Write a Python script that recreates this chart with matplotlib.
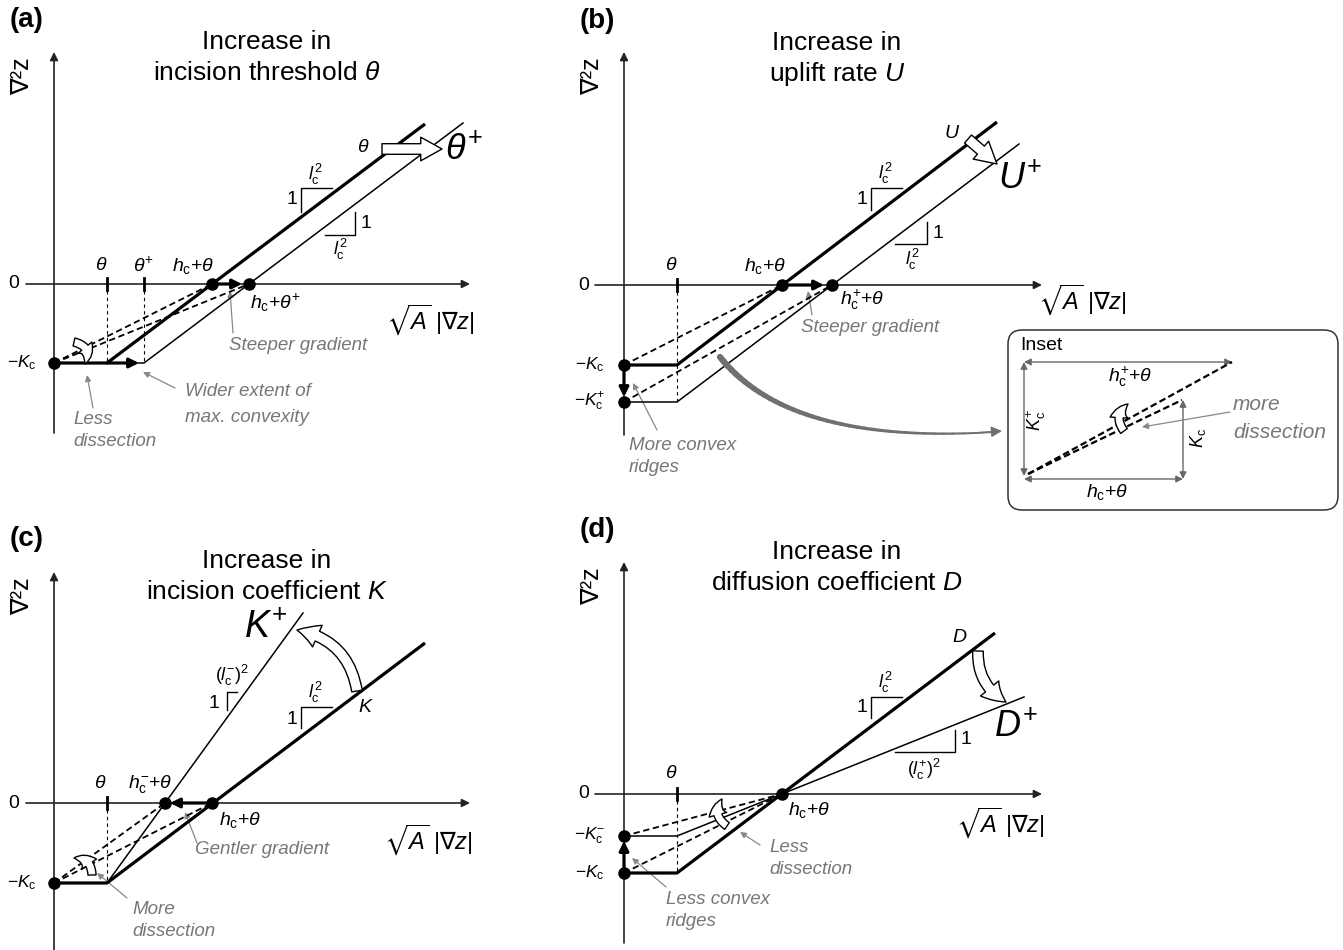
#!/usr/bin/env python3
"""
Schematic of the curvature - drainage area relation and how it shifts
when incision threshold, uplift, incision coefficient or diffusion change.
"""

import matplotlib
matplotlib.use('Agg')
import matplotlib.pyplot as plt
from matplotlib.patches import FancyArrowPatch, FancyBboxPatch
from matplotlib.collections import LineCollection
import numpy as np

plt.rcParams['font.family'] = ['Liberation Sans', 'DejaVu Sans']
plt.rcParams['mathtext.fontset'] = 'custom'
plt.rcParams['mathtext.rm'] = 'Liberation Sans'
plt.rcParams['mathtext.it'] = 'Liberation Sans:italic'
plt.rcParams['mathtext.bf'] = 'Liberation Sans:bold'
plt.rcParams['mathtext.sf'] = 'DejaVu Sans'
plt.rcParams['mathtext.fallback'] = 'stixsans'

W, H = 1343, 950
GREY = '#777777'
THICK = 2.3
THIN = 1.1

# ---- data (local units, x right of the y axis, y up from the x axis) ----
# panel (a): increase in incision threshold
A_ORIGIN = (54, 284)
A_KC = -79
A_TICKS = [53, 90]                 # theta, theta+
A_ZERO_X = [158, 195]              # hc+theta, hc+theta+
A_OLD_X = [0, 53, 371]
A_OLD_Y = [-79, -79, 160]
A_NEW_X = [53, 90, 409]
A_NEW_Y = [-79, -79, 161]

# panel (b): increase in uplift rate
B_ORIGIN = (624, 285)
B_KC = [-80, -117]                 # -Kc, -Kc+
B_TICKS = [53]
B_ZERO_X = [158, 208]              # hc+theta, hc+ + theta
B_OLD_X = [0, 53, 373]
B_OLD_Y = [-80, -80, 163]
B_NEW_X = [0, 53, 395]
B_NEW_Y = [-117, -117, 141]

# panel (c): increase in incision coefficient
C_ORIGIN = (54, 803)
C_KC = -80
C_TICKS = [53]
C_ZERO_X = [111, 158]              # hc- + theta, hc+theta
C_OLD_X = [0, 53, 371]
C_OLD_Y = [-80, -80, 160]
C_NEW_X = [53, 249]
C_NEW_Y = [-80, 190]

# panel (d): increase in diffusion coefficient
D_ORIGIN = (624, 794)
D_KC = [-79, -42]                  # -Kc, -Kc-
D_TICKS = [53]
D_ZERO_X = [158]
D_OLD_X = [0, 53, 371]
D_OLD_Y = [-79, -79, 161]
D_NEW_X = [0, 53, 400]
D_NEW_Y = [-42, -42, 97]

# inset: triangles of the two dashed envelopes
INSET_ORIGIN = (1024, 479)
INSET_TOP = 117
INSET_WIDE = 208
INSET_NARROW = 159
INSET_LOW = 79


def panel_axes(fig, origin):
    ox, oy = origin
    ax = fig.add_axes([0, 0, 1, 1])
    ax.set_xlim(-ox, W - ox)
    ax.set_ylim(oy - H, oy)
    ax.axis('off')
    ax.patch.set_alpha(0)
    return ax


def arrow(ax, tail, tip, color='#222222', lw=1.0, ms=12, style='-|>', **kw):
    ax.add_patch(FancyArrowPatch(tail, tip, arrowstyle=style, color=color, lw=lw,
                                 mutation_scale=ms, shrinkA=0, shrinkB=0, **kw))


def hollow(ax, tail, tip, rad=0.0, ms=16, lw=1.0):
    ax.add_patch(FancyArrowPatch(
        tail, tip, connectionstyle=f'arc3,rad={rad}',
        arrowstyle='simple,head_width=1.0,head_length=0.9,tail_width=0.45',
        mutation_scale=ms, fc='white', ec='black', lw=lw, shrinkA=0, shrinkB=0,
        zorder=6))


def base_axes(ax, top, bottom, right, left=-28, xlab_pos=(376, -36)):
    arrow(ax, (0, bottom), (0, top), lw=1.2, ms=12)
    arrow(ax, (left, 0), (right, 0), lw=1.2, ms=12)
    ax.text(-40, 0, '0', fontsize=14, ha='center', va='center')
    ax.text(-32, top - 24, '∇²z', fontsize=18, rotation=90, ha='center', va='center')
    ax.text(xlab_pos[0], xlab_pos[1], r'$\sqrt{A}\;|\mathsf{\nabla}z|$', fontsize=17,
            ha='center', va='center')


def title(ax, lines, label):
    ax.text(213, 242, lines[0], fontsize=19, ha='center', va='center')
    ax.text(213, 211, lines[1], fontsize=19, ha='center', va='center')
    ax.text(-27, 264, label, fontsize=20, fontweight='bold', ha='center', va='center')


def tick(ax, x, kc):
    ax.plot([x, x], [-6, 6], color='black', lw=2.0, zorder=4)
    ax.plot([x, x], [0, kc], color='black', lw=0.8, ls=(0, (3, 3)))


def dashed(ax, p0, p1):
    ax.plot([p0[0], p1[0]], [p0[1], p1[1]], color='black', lw=1.3, ls=(0, (3.5, 2)))


def dot(ax, x, y):
    ax.plot(x, y, 'o', color='black', ms=8, zorder=7)


def slope_mark(ax, corner, dx, dy, lab_top, one_pos, upper=True):
    cx, cy = corner
    if upper:
        ax.plot([cx, cx, cx + dx], [cy - dy, cy, cy], color='black', lw=1.0)
    else:
        ax.plot([cx - dx, cx, cx], [cy, cy, cy + dy], color='black', lw=1.0)
    ax.text(one_pos[0], one_pos[1], '1', fontsize=14, ha='center', va='center')
    ax.text(lab_top[1][0], lab_top[1][1], lab_top[0], fontsize=13, ha='center', va='center')


def note(ax, lines, xy, tail, tip, ha='center', fs=13.5, dy=22):
    for i, s in enumerate(lines):
        ax.text(xy[0], xy[1] - i * dy, s, fontsize=fs, style='italic', color=GREY,
                ha=ha, va='center')
    arrow(ax, tail, tip, color='#888888', lw=0.9, ms=9)


HC = r'$h_\mathrm{c}{+}\theta$'
LC2 = r'$l_\mathrm{c}^{\,2}$'

fig = plt.figure(figsize=(W / 100, H / 100), dpi=100)

# ------------------------------------------------------------ panel (a)
ax = panel_axes(fig, A_ORIGIN)
base_axes(ax, 232, -149, 416)
title(ax, ['Increase in', r'incision threshold $\theta$'], '(a)')
for x in A_TICKS:
    tick(ax, x, A_KC)
ax.plot(A_NEW_X, A_NEW_Y, color='black', lw=THIN)
ax.plot(A_OLD_X, A_OLD_Y, color='black', lw=THICK, solid_capstyle='butt')
for x in A_ZERO_X:
    dashed(ax, (0, A_KC), (x, 0))
    dot(ax, x, 0)
dot(ax, 0, A_KC)
arrow(ax, (A_TICKS[0], A_KC), (A_TICKS[0] + 32, A_KC), color='black', lw=THICK, ms=14, zorder=5)
arrow(ax, (A_ZERO_X[0], 0), (A_ZERO_X[0] + 30, 0), color='black', lw=THICK, ms=14, zorder=5)
ax.text(A_TICKS[0] - 6, 18, r'$\theta$', fontsize=14, ha='center', va='center')
ax.text(A_TICKS[1], 18, r'$\theta^{+}$', fontsize=14, ha='center', va='center')
ax.text(139, 18, HC, fontsize=14, ha='center', va='center')
ax.text(221, -19, r'$h_\mathrm{c}{+}\theta^{+}$', fontsize=14, ha='center', va='center')
ax.text(-32, A_KC, r'$-K_\mathrm{c}$', fontsize=12.5, ha='center', va='center')
ax.text(309, 137, r'$\theta$', fontsize=14, ha='center', va='center')
ax.text(410, 134, r'$\theta^{+}$', fontsize=26, ha='center', va='center')
hollow(ax, (328, 135), (388, 135), ms=17)
slope_mark(ax, (247, 96), 31, 24, (LC2, (262, 110)), (238, 84))
slope_mark(ax, (301, 49), 30, 23, (LC2, (287, 35)), (312, 60), upper=False)
note(ax, ['Steeper gradient'], (244, -61), (179, -49), (176, -7))
note(ax, ['Wider extent of', 'max. convexity'], (131, -108), (121, -104), (89, -88), ha='left', dy=26)
note(ax, ['Less', 'dissection'], (19, -136), (39, -124), (33, -91), ha='left')
hollow(ax, (20, -58), (31, -80), rad=-0.6, ms=13)

# ------------------------------------------------------------ panel (b)
ax = panel_axes(fig, B_ORIGIN)
base_axes(ax, 233, -150, 418, left=-29, xlab_pos=(458, -15))
title(ax, ['Increase in', r'uplift rate $U$'], '(b)')
for x in B_TICKS:
    tick(ax, x, B_KC[1])
ax.plot(B_NEW_X, B_NEW_Y, color='black', lw=THIN)
ax.plot(B_OLD_X, B_OLD_Y, color='black', lw=THICK, solid_capstyle='butt')
for x, kc in zip(B_ZERO_X, B_KC):
    dashed(ax, (0, kc), (x, 0))
    dot(ax, x, 0)
    dot(ax, 0, kc)
arrow(ax, (0, B_KC[0]), (0, B_KC[1] + 5), color='black', lw=THICK, ms=14, zorder=5)
arrow(ax, (B_ZERO_X[0], 0), (B_ZERO_X[0] + 42, 0), color='black', lw=THICK, ms=14, zorder=5)
ax.text(47, 19, r'$\theta$', fontsize=14, ha='center', va='center')
ax.text(141, 19, HC, fontsize=14, ha='center', va='center')
ax.text(238, -15, r'$h_\mathrm{c}^{+}{+}\theta$', fontsize=14, ha='center', va='center')
ax.text(-34, B_KC[0], r'$-K_\mathrm{c}$', fontsize=12.5, ha='center', va='center')
ax.text(-34, B_KC[1], r'$-K_\mathrm{c}^{+}$', fontsize=12.5, ha='center', va='center')
ax.text(328, 152, r'$U$', fontsize=14, ha='center', va='center')
ax.text(396, 106, r'$U^{+}$', fontsize=26, ha='center', va='center')
hollow(ax, (344, 146), (373, 121), ms=17)
slope_mark(ax, (247, 97), 31, 22, (LC2, (262, 112)), (238, 85))
slope_mark(ax, (303, 41), 32, 22, (LC2, (289, 26)), (314, 52), upper=False)
note(ax, ['Steeper gradient'], (246, -42), (188, -30), (184, -6))
note(ax, ['More convex', 'ridges'], (5, -160), (33, -145), (9, -98), ha='left')

# grey link from panel (b) to the inset, tapering towards the head
p0 = np.array([96.0, -72.0])
pc = np.array([166.0, -160.0])
p2 = np.array([370.0, -147.0])
t = np.linspace(0, 1, 40)[:, None]
pts = (1 - t) ** 2 * p0 + 2 * (1 - t) * t * pc + t ** 2 * p2
segs = np.stack([pts[:-1], pts[1:]], axis=1)
widths = np.linspace(4.5, 1.3, len(segs))
ax.add_collection(LineCollection(segs, linewidths=widths, colors='#707070', capstyle='round'))
arrow(ax, tuple(pts[-3]), (378, -146), color='#707070', lw=1.0, ms=16)

# ------------------------------------------------------------ inset
ax = panel_axes(fig, INSET_ORIGIN)
ax.add_patch(FancyBboxPatch((-16, -31), 330, 180, boxstyle='round,pad=0,rounding_size=14',
                            fc='white', ec='#333333', lw=1.1))
ax.text(-4, 134, 'Inset', fontsize=14, ha='left', va='center')
gkw = dict(color='#666666', lw=1.0, ms=10, style='<|-|>')
arrow(ax, (0, INSET_TOP), (INSET_WIDE, INSET_TOP), **gkw)
arrow(ax, (0, 3), (0, INSET_TOP), **gkw)
arrow(ax, (0, 0), (INSET_NARROW, 0), **gkw)
arrow(ax, (INSET_NARROW, 0), (INSET_NARROW, INSET_LOW), **gkw)
ax.text(106, 102, r'$h_\mathrm{c}^{+}{+}\theta$', fontsize=14, ha='center', va='center')
ax.text(83, -13, HC, fontsize=14, ha='center', va='center')
ax.text(12, 59, r'$K_\mathrm{c}^{+}$', fontsize=13, rotation=90, ha='center', va='center')
ax.text(174, 41, r'$K_\mathrm{c}$', fontsize=13, rotation=90, ha='center', va='center')
ax.plot([4, INSET_WIDE], [5, INSET_TOP], color='black', lw=1.6, ls=(0, (3, 1.5)))
ax.plot([4, INSET_NARROW - 1], [5, INSET_LOW], color='black', lw=1.6, ls=(0, (3, 1.5)))
hollow(ax, (100, 48), (104, 75), rad=-0.5, ms=13)
for i, s in enumerate(['more', 'dissection']):
    ax.text(209, 74 - i * 27, s, fontsize=15, style='italic', color=GREY, ha='left', va='center')
arrow(ax, (206, 67), (118, 52), color='#888888', lw=0.9, ms=9)

# ------------------------------------------------------------ panel (c)
ax = panel_axes(fig, C_ORIGIN)
base_axes(ax, 231, -147, 416, xlab_pos=(374, -37))
title(ax, ['Increase in', r'incision coefficient $K$'], '(c)')
for x in C_TICKS:
    tick(ax, x, C_KC)
ax.plot(C_NEW_X, C_NEW_Y, color='black', lw=THIN)
ax.plot(C_OLD_X, C_OLD_Y, color='black', lw=THICK, solid_capstyle='butt')
for x in C_ZERO_X:
    dashed(ax, (0, C_KC), (x, 0))
    dot(ax, x, 0)
dot(ax, 0, C_KC)
arrow(ax, (C_ZERO_X[1], 0), (C_ZERO_X[0] + 5, 0), color='black', lw=THICK, ms=14, zorder=5)
ax.text(46, 19, r'$\theta$', fontsize=14, ha='center', va='center')
ax.text(96, 19, r'$h_\mathrm{c}^{-}{+}\theta$', fontsize=14, ha='center', va='center')
ax.text(186, -17, HC, fontsize=14, ha='center', va='center')
ax.text(-32, C_KC, r'$-K_\mathrm{c}$', fontsize=12.5, ha='center', va='center')
ax.text(212, 175, r'$K^{+}$', fontsize=27, ha='center', va='center')
ax.text(312, 95, r'$K$', fontsize=14, ha='center', va='center')
hollow(ax, (303, 112), (243, 173), rad=0.35, ms=17)
slope_mark(ax, (173, 111), 10, 18, (r'$(l_\mathrm{c}^{-})^{2}$', (178, 128)), (160, 100))
slope_mark(ax, (247, 96), 31, 21, (LC2, (262, 111)), (238, 83))
note(ax, ['Gentler gradient'], (208, -47), (143, -40), (131, -9))
note(ax, ['More', 'dissection'], (78, -107), (73, -95), (43, -70), ha='left')
hollow(ax, (38, -72), (20, -55), rad=0.5, ms=13)

# ------------------------------------------------------------ panel (d)
ax = panel_axes(fig, D_ORIGIN)
base_axes(ax, 232, -149, 418, left=-29, xlab_pos=(376, -29))
title(ax, ['Increase in', r'diffusion coefficient $D$'], '(d)')
for x in D_TICKS:
    tick(ax, x, D_KC[0])
ax.plot(D_NEW_X, D_NEW_Y, color='black', lw=THIN)
ax.plot(D_OLD_X, D_OLD_Y, color='black', lw=THICK, solid_capstyle='butt')
for kc in D_KC:
    dashed(ax, (0, kc), (D_ZERO_X[0], 0))
    dot(ax, 0, kc)
dot(ax, D_ZERO_X[0], 0)
arrow(ax, (0, D_KC[0]), (0, D_KC[1] - 5), color='black', lw=THICK, ms=14, zorder=5)
ax.text(47, 20, r'$\theta$', fontsize=14, ha='center', va='center')
ax.text(185, -16, HC, fontsize=14, ha='center', va='center')
ax.text(-34, D_KC[0], r'$-K_\mathrm{c}$', fontsize=12.5, ha='center', va='center')
ax.text(-34, D_KC[1], r'$-K_\mathrm{c}^{-}$', fontsize=12.5, ha='center', va='center')
ax.text(336, 156, r'$D$', fontsize=14, ha='center', va='center')
ax.text(392, 67, r'$D^{+}$', fontsize=26, ha='center', va='center')
hollow(ax, (354, 143), (382, 92), rad=0.3, ms=17)
slope_mark(ax, (247, 97), 31, 21, (LC2, (262, 112)), (238, 86))
slope_mark(ax, (331, 42), 60, 22, (r'$(l_\mathrm{c}^{+})^{2}$', (300, 25)), (342, 54), upper=False)
note(ax, ['Less', 'dissection'], (145, -53), (136, -51), (116, -38), ha='left')
note(ax, ['Less convex', 'ridges'], (42, -106), (42, -93), (8, -64), ha='left')
hollow(ax, (103, -32), (98, -5), rad=-0.5, ms=13)

fig.savefig('out.png', dpi=100)
